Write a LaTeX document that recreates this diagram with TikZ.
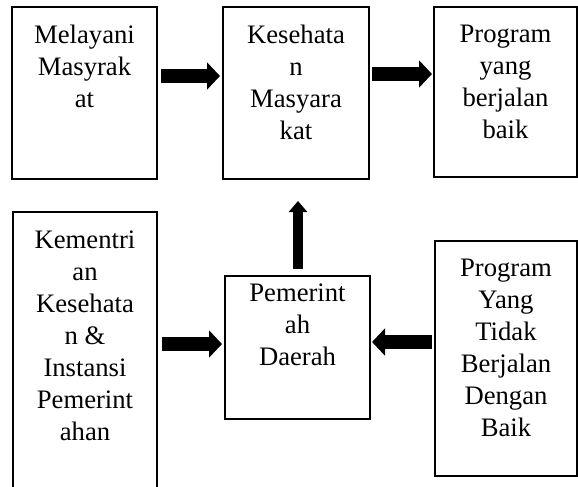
\documentclass[tikz,border=0pt]{standalone}
\usepackage{fontspec}
\setmainfont{Liberation Serif}
\usetikzlibrary{arrows.meta,calc}
\begin{document}
\begin{tikzpicture}[x=0.75pt,y=-0.75pt,
  box/.style={draw,line width=1.4pt,rectangle,inner sep=0pt,outer sep=0pt},
  txt/.style={anchor=north,inner sep=0pt,align=center,font=\fontsize{20}{24}\selectfont},
  fat/.style={line width=10.5pt,-{Triangle[length=9.75pt,width=20pt]}},
  fatv/.style={line width=7.5pt,-{Triangle[length=8.25pt,width=13.5pt]}}]
\useasboundingbox (0,0) rectangle (578,486);
% boxes
\node[box,minimum width=145*0.75pt,minimum height=172*0.75pt] (b1) at (84.5,93) {};
\node[box,minimum width=146*0.75pt,minimum height=172*0.75pt] (b2) at (296,93) {};
\node[box,minimum width=143*0.75pt,minimum height=170*0.75pt] (b3) at (505.5,92) {};
\node[box,minimum width=144*0.75pt,minimum height=283*0.75pt] (b4) at (85,353.5) {};
\node[box,minimum width=145*0.75pt,minimum height=143*0.75pt] (b5) at (297.5,347.5) {};
\node[box,minimum width=142*0.75pt,minimum height=235*0.75pt] (b6) at (506,358.5) {};
% texts
\node[txt] (t1) at (84.5,25) {Melayani\\Masyrak\\at};
\node[txt] (t2) at (296,25) {Kesehata\\n\\Masyara\\kat};
\node[txt] (t3) at (505.5,25) {Program\\yang\\berjalan\\baik};
\node[txt] (t4) at (85,231) {Kementri\\an\\Kesehata\\n \&\\Instansi\\Pemerint\\ahan};
\node[txt] (t5) at (297.5,284) {Pemerint\\ah\\Daerah};
\node[txt] (t6) at (506,259) {Program\\Yang\\Tidak\\Berjalan\\Dengan\\Baik};
% arrows
\draw[fat] ($(b1.east)+(4,-17)$) -- ($(b2.west)+(-3,-17)$);
\draw[fat] ($(b2.east)+(3,-19)$) -- ($(b3.west)+(-2,-18)$);
\draw[fat] ($(b4.east|-b5.west)+(5,-3.5)$) -- ($(b5.west)+(-3,-3.5)$);
\draw[fat] ($(b6.west|-b5.east)+(-3,-5.5)$) -- ($(b5.east)+(2,-5.5)$);
\draw[fatv] ($(b5.north)+(0.5,-7)$) -- ($(b5.north|-b2.south)+(0.5,22)$);
\end{tikzpicture}
\end{document}
